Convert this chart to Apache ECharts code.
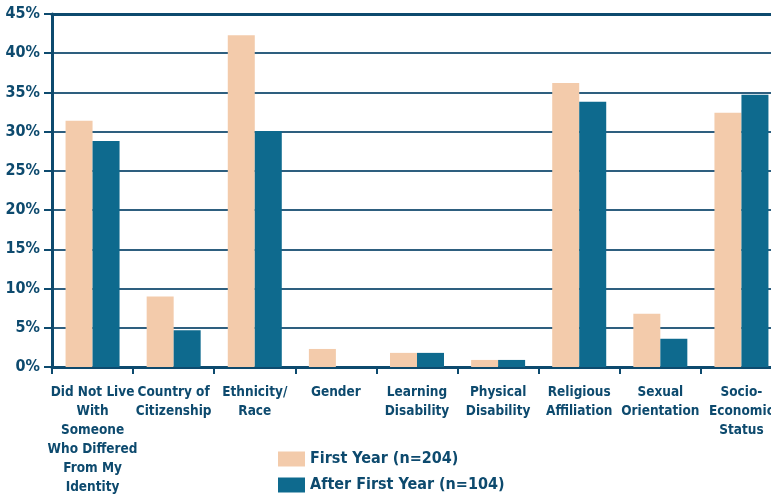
<!DOCTYPE html>
<html>
<head>
<meta charset="utf-8">
<script src="https://cdn.jsdelivr.net/npm/echarts@6/dist/echarts.min.js"></script>
<style>
  html, body { margin: 0; padding: 0; background: #fff; }
  #chart { width: 771px; height: 494px; }
</style>
</head>
<body>
<div id="chart"></div>
<script>
// categories along the bottom
const categories = [
    'Did Not Live\nWith\nSomeone\nWho Differed\nFrom My\nIdentity',
    'Country of\nCitizenship',
    'Ethnicity/\nRace',
    'Gender',
    'Learning\nDisability',
    'Physical\nDisability',
    'Religious\nAffiliation',
    'Sexual\nOrientation',
    'Socio-\nEconomic\nStatus'
]

// series values (percent)
const firstYear = [31.4, 9.0, 42.3, 2.3, 1.8, 0.9, 36.2, 6.8, 32.4]
const afterFirstYear = [28.8, 4.7, 30.1, 0, 1.8, 0.9, 33.8, 3.6, 34.7]

const seriesNames = ['First Year (n=204)', 'After First Year (n=104)']

const navy = '#0d4a6e'
const font = '"DejaVu Sans Condensed", "Liberation Sans Narrow", sans-serif'

const legendText = { color: navy, fontSize: 16, lineHeight: 15, fontWeight: 'bold', fontFamily: font }

const chart = echarts.init(document.getElementById('chart'), null, { renderer: 'canvas' })

chart.setOption({
    animation: false,
    textStyle: { fontFamily: font },
    // plot runs past the right edge, as in the source
    grid: { left: 52, top: 14, width: 730, height: 353, outerBoundsMode: 'none', containLabel: false },
    legend: [
        {
            left: 278, top: 451, padding: 0, itemWidth: 27, itemHeight: 15, icon: 'rect',
            textStyle: legendText, data: [seriesNames[0]]
        },
        {
            left: 278, top: 477, padding: 0, itemWidth: 27, itemHeight: 15, icon: 'rect',
            textStyle: legendText, data: [seriesNames[1]]
        }
    ],
    xAxis: [
        {
            type: 'category',
            data: categories,
            axisLine: { lineStyle: { color: navy, width: 3 } },
            axisTick: { show: true, length: 7, lineStyle: { color: navy, width: 2 } },
            axisLabel: {
                color: navy,
                fontSize: 13.5,
                fontWeight: 'bold',
                lineHeight: 19,
                margin: 16,
                interval: 0
            }
        },
        {
            // heavy top border
            type: 'category',
            position: 'top',
            data: categories,
            axisLine: { show: true, lineStyle: { color: navy, width: 3 } },
            axisTick: { show: false },
            axisLabel: { show: false }
        }
    ],
    yAxis: {
        type: 'value',
        min: 0,
        max: 45,
        interval: 5,
        axisLine: { show: true, lineStyle: { color: navy, width: 3 } },
        axisTick: { show: true, length: 8, lineStyle: { color: navy, width: 2 } },
        axisLabel: {
            color: navy,
            fontSize: 16,
            fontWeight: 'bold',
            margin: 12,
            formatter: '{value}%'
        },
        splitLine: { show: true, lineStyle: { color: '#2e5f7f', width: 2 } }
    },
    series: [
        {
            name: seriesNames[0],
            type: 'bar',
            data: firstYear,
            barWidth: 27,
            barGap: '0%',
            itemStyle: { color: '#f3cbab' }
        },
        {
            name: seriesNames[1],
            type: 'bar',
            data: afterFirstYear,
            barWidth: 27,
            itemStyle: { color: '#0e6a8e' }
        }
    ]
})
</script>
</body>
</html>
